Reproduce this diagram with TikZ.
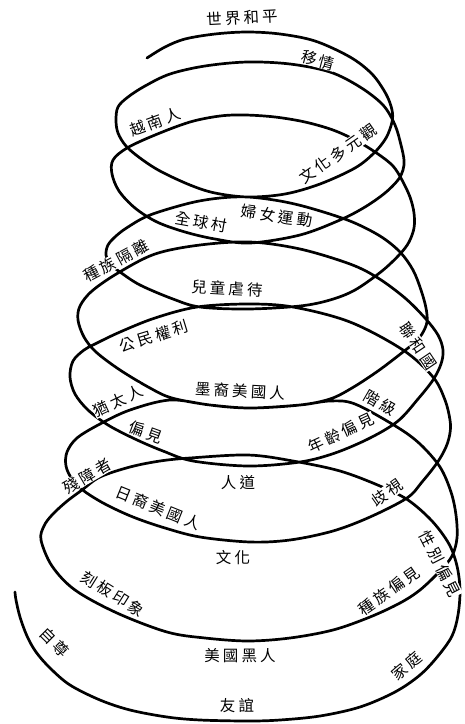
\documentclass[tikz,border=0pt]{standalone}
\usepackage{fontspec}
\newfontfamily\cjk[LetterSpace=20]{Noto Sans CJK TC}
\begin{document}
\begin{tikzpicture}[x=1pt,y=-1pt,
  lab/.style={font=\cjk\fontsize{15.5}{16}\selectfont, fill=white, inner sep=0.3pt},
  helix/.style={line width=2.7pt, line cap=round, line join=round}]
\fill[white] (0,0) rectangle (464,724);
\useasboundingbox (0,0) rectangle (464,724);
\draw[helix] plot[smooth, tension=0.55] coordinates {
 (147,58) (165,47) (185,39) (215,34) (247,32) (280,34) (315,41) (350,57) (372,74) (386,94) (392,110)
 (392,122)
 (386,138) (374,153) (355,168) (320,184) (285,194) (248,197) (215,193) (190,185) (160,171) (140,158) (126,146) (118,133)
 (116,120)
 (118,107) (128,97) (145,86) (170,74) (205,66) (247,62) (290,64) (330,72) (360,87) (383,105) (395,125) (401,145) (404,160)
 (403,170)
 (398,180) (385,193) (365,207) (340,220) (300,235) (250,243) (215,239) (185,232) (157,222) (135,208) (119,191)
 (112,174)
 (113,160) (127,148) (155,135) (190,122) (220,116) (245,115) (275,117) (305,122) (333,130) (357,141) (378,154) (393,166) (402,180) (410,197) (414,213)
 (414,228)
 (409,242) (400,254) (382,271) (355,290) (330,300) (300,306) (248,309) (200,307) (173,299) (140,285) (120,272) (110,264)
 (106,255)
 (108,245) (116,236) (128,227) (150,215) (190,203) (220,198) (248,197) (280,201) (310,208) (350,221) (380,236) (400,252) (413,270) (421,290) (426,308)
 (427,322)
 (422,334) (414,343) (403,352) (378,371) (352,388) (330,399) (300,405) (250,408) (210,405) (172,398) (150,388) (120,370) (96,352) (84,337)
 (78,320)
 (80,306) (92,291) (118,273) (155,254) (200,245) (250,242) (300,249) (350,264) (378,278) (405,298) (425,318) (438,335)
 (443,350)
 (441,364) (433,380) (418,399) (398,421) (370,438) (335,453) (300,462) (248,466) (193,461) (163,451) (135,439) (108,425) (88,410) (75,394)
 (70,377)
 (73,361) (84,350) (95,344) (120,332) (155,318) (197,307) (248,304) (293,307) (350,322) (403,350) (433,377) (445,400) (450,420)
 (450,433)
 (446,447) (437,463) (422,482) (407,498) (370,517) (333,531) (290,540) (250,542) (200,537) (165,528) (133,517) (105,504) (84,491) (72,479)
 (66,466)
 (67,452) (77,438) (100,424) (130,410) (170,400) (210,405) (250,408) (300,405) (330,401) (355,404) (397,427) (420,444) (440,467) (451,492) (456,515)
 (457,538)
 (452,556) (440,571) (420,590) (400,603) (370,617) (333,630) (290,638) (248,641) (205,638) (167,632) (117,613) (75,590) (52,566)
 (41,540)
 (44,526) (52,515) (66,502) (82,490) (100,477) (130,467) (160,461) (190,458) (248,455) (293,461) (340,471) (380,486) (408,500) (432,521) (449,544) (457,566)
 (460,590)
 (458,615) (452,636) (438,656) (420,675) (395,692) (360,707) (320,716) (280,720) (248,721) (200,720) (167,717) (130,710) (100,700) (70,685) (50,668) (36,652) (27,636) (20,617) (16,600) (15,592)
};
\node[lab, rotate=3]   (l01) at (242,18)  {世界和平};
\node[lab, rotate=-15] (l02) at (318,60)  {移情};
\node[lab, rotate=20]  (l03) at (155,122) {越南人};
\node[lab, rotate=35]  (l04) at (338,154) {文化多元觀};
\node[lab, rotate=-10] (l05) at (201,222) {全球村};
\node[lab, rotate=-8]  (l06) at (277,216) {婦女運動};
\node[lab, rotate=28]  (l07) at (116,261) {種族隔離};
\node[lab, rotate=-3]  (l08) at (227,288) {兒童虐待};
\node[lab, rotate=17]  (l09) at (154,336) {公民權利};
\node[lab, rotate=-56] (l10) at (418,346) {聯和國};
\node[lab, rotate=25]  (l11) at (118,401) {猶太人};
\node[lab, rotate=-3]  (l12) at (240,391) {墨裔美國人};
\node[lab, rotate=-30] (l13) at (380,403) {階級};
\node[lab, rotate=-20] (l14) at (146,432) {偏見};
\node[lab, rotate=25]  (l15) at (341,433) {年齡偏見};
\node[lab, rotate=30]  (l16) at (87,476)  {殘障者};
\node[lab]             (l17) at (238,483) {人道};
\node[lab, rotate=35]  (l18) at (387,493) {歧視};
\node[lab, rotate=-22] (l19) at (158,508) {日裔美國人};
\node[lab]             (l20) at (233,558) {文化};
\node[lab, rotate=-63] (l21) at (440,564) {性別偏見};
\node[lab, rotate=35]  (l22) at (389,591) {種族偏見};
\node[lab, rotate=-32] (l23) at (113,594) {刻板印象};
\node[lab, rotate=-45] (l24) at (55,642)  {自尊};
\node[lab]             (l25) at (240,656) {美國黑人};
\node[lab, rotate=40]  (l26) at (407,666) {家庭};
\node[lab]             (l27) at (237,706) {友誼};
\end{tikzpicture}
\end{document}
